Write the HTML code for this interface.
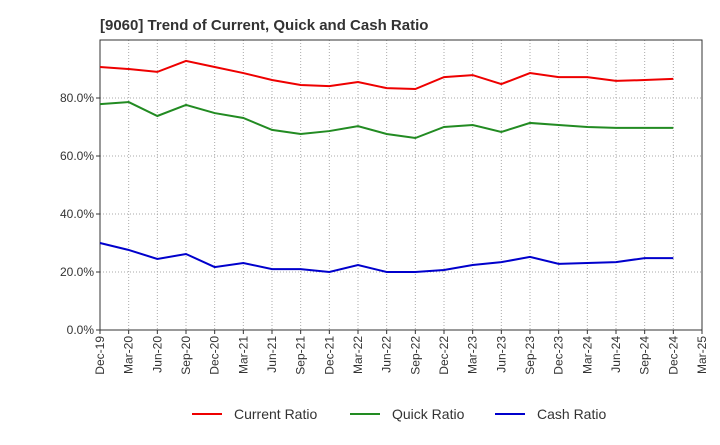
<!DOCTYPE html>
<html><head><meta charset="utf-8"><style>body{margin:0;background:#fff;font-family:"Liberation Sans",sans-serif}</style></head>
<body>
<svg width="720" height="440" xmlns="http://www.w3.org/2000/svg">
<text x="100" y="30" font-size="15" font-weight="bold" fill="#333">[9060]  Trend of Current, Quick and Cash Ratio</text>
<g id="grid"></g><g id="axes"></g><g id="series"></g>
<g font-size="14" fill="#333">
<line x1="192" y1="414" x2="222" y2="414" stroke="#e00" stroke-width="2"/><text x="234" y="419">Current Ratio</text>
<line x1="350" y1="414" x2="380" y2="414" stroke="#228B22" stroke-width="2"/><text x="392" y="419">Quick Ratio</text>
<line x1="495" y1="414" x2="525" y2="414" stroke="#00c" stroke-width="2"/><text x="537" y="419">Cash Ratio</text>
</g>
</svg>
<script>
const xLabels=["Dec-19","Mar-20","Jun-20","Sep-20","Dec-20","Mar-21","Jun-21","Sep-21","Dec-21","Mar-22","Jun-22","Sep-22","Dec-22","Mar-23","Jun-23","Sep-23","Dec-23","Mar-24","Jun-24","Sep-24","Dec-24","Mar-25"];
const yTicks=[0,20,40,60,80];
const currentRatio=[90.7,90.0,89.0,92.8,90.7,88.6,86.2,84.5,84.1,85.5,83.4,83.1,87.2,87.9,84.8,88.6,87.2,87.2,85.9,86.2,86.6];
const quickRatio=[77.9,78.6,73.8,77.6,74.8,73.1,69.0,67.6,68.6,70.3,67.6,66.2,70.0,70.7,68.3,71.4,70.7,70.0,69.7,69.7,69.7];
const cashRatio=[30.0,27.6,24.5,26.2,21.7,23.1,21.0,21.0,20.0,22.4,20.0,20.0,20.7,22.4,23.4,25.2,22.8,23.1,23.4,24.8,24.8];
const L=100,R=702,T=40,B=330,YMAX=100;
const xs=i=>L+i*(R-L)/(xLabels.length-1);
const ys=v=>B-v/YMAX*(B-T);
const NS="http://www.w3.org/2000/svg";
function mk(p,t,a){const e=document.createElementNS(NS,t);for(const k in a)e.setAttribute(k,a[k]);p.appendChild(e);return e;}
const grid=document.getElementById('grid'),axes=document.getElementById('axes'),ser=document.getElementById('series');
xLabels.forEach((l,i)=>{const x=xs(i);
 const g=mk(grid,'line',{x1:x,x2:x,y1:T,y2:B,stroke:'#aaa','stroke-dasharray':'1,2'});
 
 const t=mk(axes,'text',{x:0,y:0,'font-size':12,fill:'#333','text-anchor':'end',transform:`translate(${x+4},${B+6}) rotate(-90)`});
 t.textContent=l;
 mk(axes,'line',{x1:x,x2:x,y1:B,y2:B+4,stroke:'#333'});
});
yTicks.forEach(v=>{const y=ys(v);
 const g=mk(grid,'line',{x1:L,x2:R,y1:y,y2:y,stroke:'#aaa','stroke-dasharray':'1,2'});
 
 const t=mk(axes,'text',{x:L-6,y:y+4,'font-size':12,fill:'#333','text-anchor':'end'});
 t.textContent=v.toFixed(1)+'%';
 mk(axes,'line',{x1:L-4,x2:L,y1:y,y2:y,stroke:'#333'});
});
const box=mk(axes,'rect',{x:L,y:T,width:R-L,height:B-T,fill:'none',stroke:'#333'});

[[currentRatio,'#e00','current-ratio-line'],[quickRatio,'#228B22','quick-ratio-line'],[cashRatio,'#00c','cash-ratio-line']].forEach(([d,c,n])=>{
 const p=mk(ser,'polyline',{points:d.map((v,i)=>xs(i)+','+ys(v)).join(' '),fill:'none',stroke:c,'stroke-width':2});
 
});
</script>
</body></html>
